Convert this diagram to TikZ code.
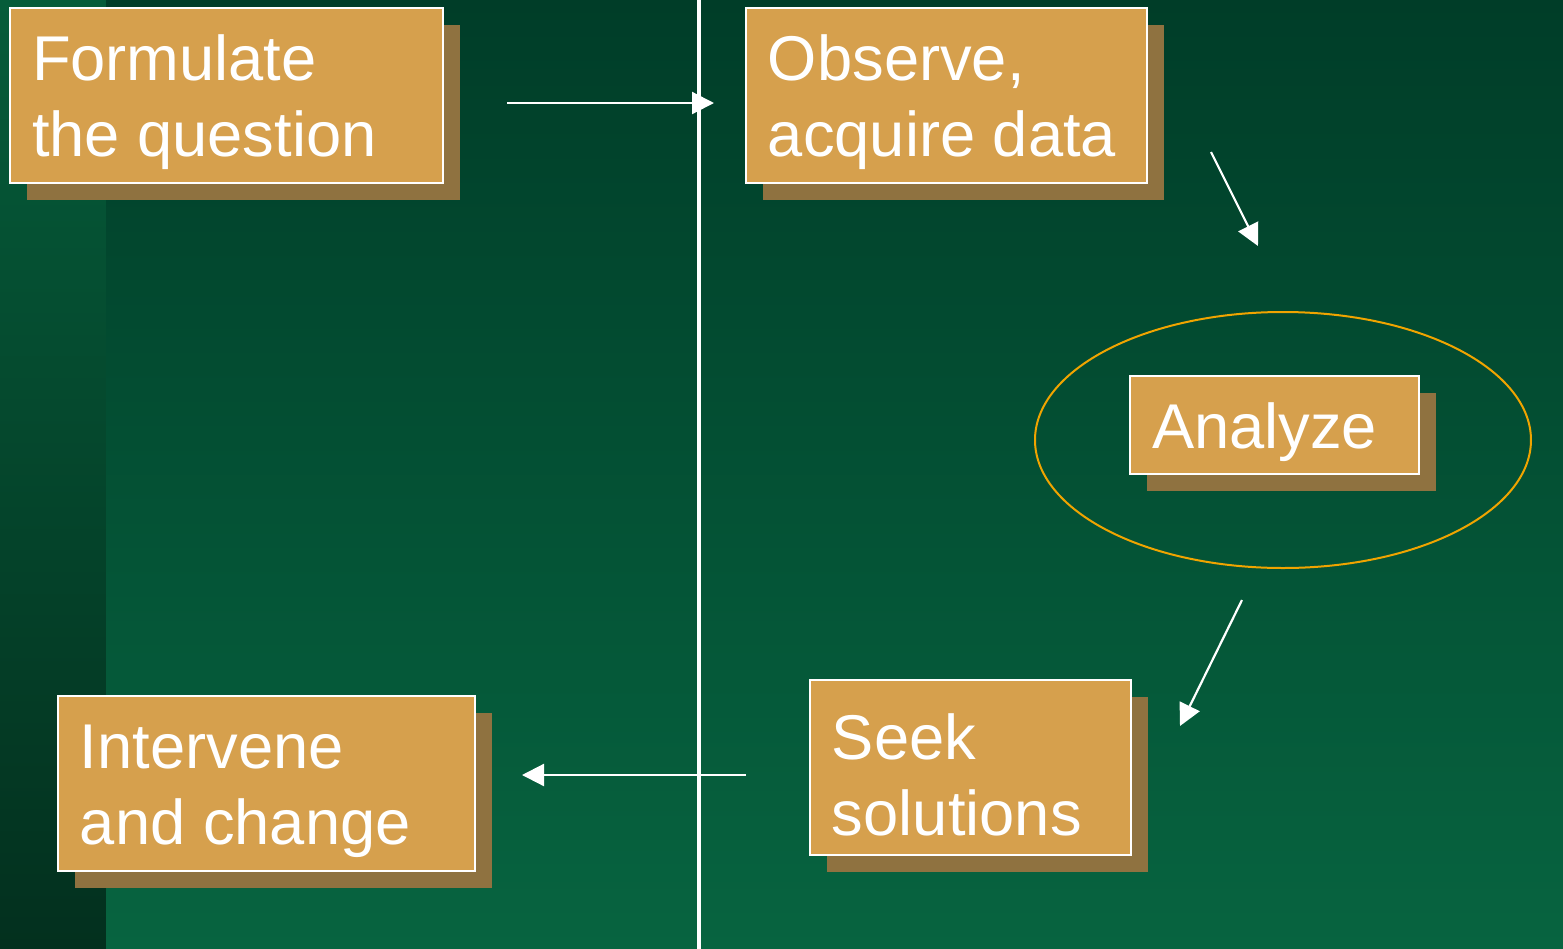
\documentclass[tikz,border=0pt]{standalone}
\usepackage{fontspec}
\setmainfont{Liberation Sans}
\usetikzlibrary{arrows.meta}
\usetikzlibrary{shadows}

\definecolor{deepgreen}{HTML}{003D28}
\definecolor{lowgreen}{HTML}{076440}
\definecolor{stripgreen}{HTML}{065C3A}
\definecolor{stripdark}{HTML}{03301E}
\definecolor{cardfill}{HTML}{D6A04D}
\definecolor{cardshadow}{HTML}{8F7240}
\definecolor{ringorange}{HTML}{F0A400}

\tikzset{
  stepcard/.style={draw=white, line width=0.02cm, fill=cardfill,
    text=white, align=flush left, inner xsep=0.22cm, inner ysep=0pt,
    font=\fontsize{18}{21.6}\selectfont,
    execute at begin node={\rule{0pt}{0.6cm}},
    drop shadow={shadow xshift=0.17cm, shadow yshift=-0.17cm,
      fill=cardshadow, opacity=1}},
  flow/.style={white, line width=0.022cm,
    -{Triangle[length=0.22cm, width=0.22cm]}}
}

\begin{document}
\begin{tikzpicture}
\useasboundingbox (0,0) rectangle (15.63,-9.49);

% background
\shade[top color=deepgreen, bottom color=lowgreen] (0,0) rectangle (15.63,-9.49);
\shade[top color=stripgreen, bottom color=stripdark] (0,0) rectangle (1.06,-9.49);
\draw[white, line width=0.04cm] (6.99,0) -- (6.99,-9.49);

% ring round the analysis step
\draw[ringorange, line width=0.02cm] (12.83,-4.40) ellipse (2.48 and 1.28);

% steps
\node[stepcard, minimum width=4.33cm, minimum height=1.75cm,
  text width=3.89cm] (formulate) at (2.265,-0.955)
  {Formulate\\the question};
\node[stepcard, minimum width=4.01cm, minimum height=1.75cm,
  text width=3.57cm] (observe) at (9.465,-0.955)
  {Observe,\\acquire data};
\node[stepcard, minimum width=2.89cm, minimum height=0.98cm,
  text width=2.45cm] (analyze) at (12.745,-4.25)
  {Analyze};
\node[stepcard, minimum width=3.21cm, minimum height=1.75cm,
  text width=2.77cm] (seek) at (9.705,-7.675)
  {Seek\\solutions};
\node[stepcard, minimum width=4.17cm, minimum height=1.75cm,
  text width=3.73cm] (intervene) at (2.665,-7.835)
  {Intervene\\and change};

% arrow ends
\coordinate (fromformulate) at (5.07,-1.03);
\coordinate (toobserve) at (7.14,-1.03);
\coordinate (fromobserve) at (12.11,-1.52);
\coordinate (toanalyze) at (12.58,-2.46);
\coordinate (fromanalyze) at (12.42,-6.00);
\coordinate (toseek) at (11.80,-7.26);
\coordinate (fromseek) at (7.46,-7.75);
\coordinate (tointervene) at (5.22,-7.75);

\draw[flow] (fromformulate) -- (toobserve);
\draw[flow] (fromobserve) -- (toanalyze);
\draw[flow] (fromanalyze) -- (toseek);
\draw[flow] (fromseek) -- (tointervene);
\end{tikzpicture}
\end{document}
